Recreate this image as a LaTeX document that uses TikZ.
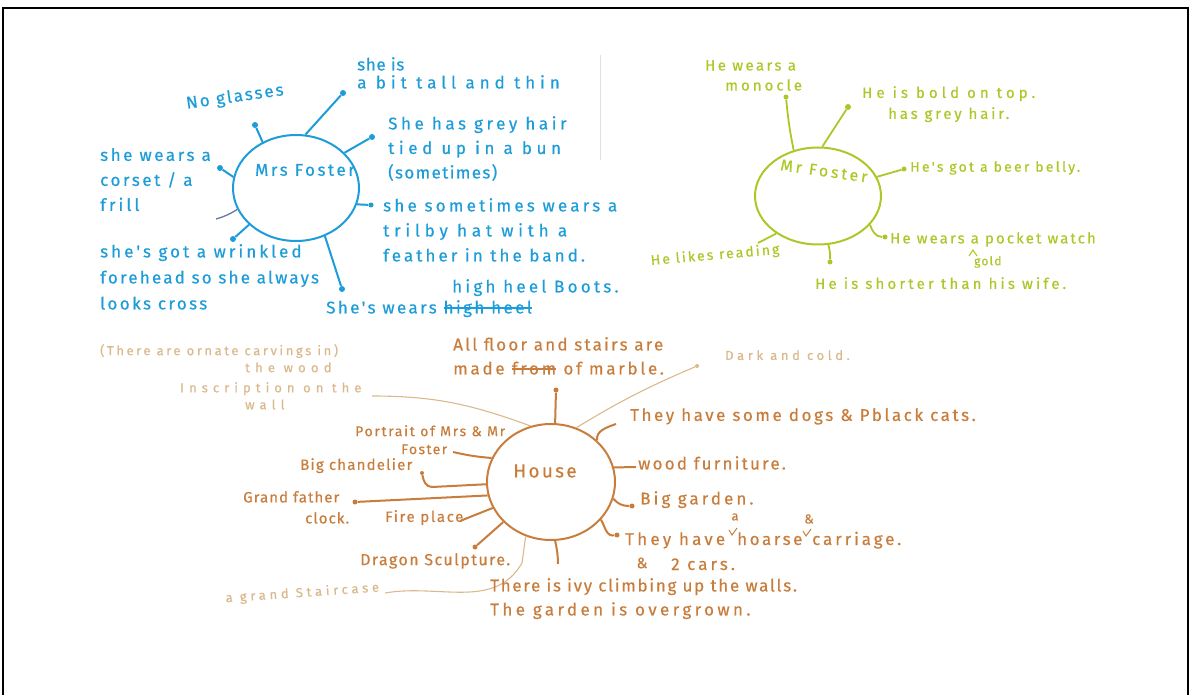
\documentclass[tikz,border=0pt]{standalone}
\usepackage{fontspec}
\setmainfont{Fira Sans}
\newfontfamily\hand[FakeBold=0.5]{Fira Sans}
\usetikzlibrary{shapes.geometric}
\newcommand{\ls}[2]{{\addfontfeature{LetterSpace=#1}#2}}
\newsavebox{\mystrikebox}
\newcommand{\mystrike}[1]{\sbox{\mystrikebox}{#1}\rlap{\rule[0.28em]{\wd\mystrikebox}{1.4pt}}\usebox{\mystrikebox}}
\definecolor{mblue}{RGB}{28,156,216}
\definecolor{mgreen}{RGB}{170,200,40}
\definecolor{mbrown}{RGB}{200,125,60}
\definecolor{mtan}{RGB}{218,185,140}
\definecolor{mslate}{RGB}{105,120,165}
\begin{document}
\begin{tikzpicture}[x=1pt,y=-1pt,
  hub/.style={ellipse, draw, line width=2pt, inner sep=0pt},
  lbl/.style={anchor=north west, align=left, inner sep=0pt},
  dot/.style={circle, fill, inner sep=0pt, minimum size=6pt},
  bsp/.style={mblue, line width=2pt},
  gsp/.style={mgreen, line width=1.8pt},
  rsp/.style={mbrown, line width=2pt},
  tsp/.style={mtan, line width=1.1pt},
  bluet/.style={lbl, text=mblue, font=\fontsize{17}{25}\selectfont\hand},
  greent/.style={lbl, text=mgreen, font=\fontsize{15}{21}\selectfont\hand},
  brownt/.style={lbl, text=mbrown, font=\fontsize{17}{24}\selectfont\hand},
  tant/.style={lbl, text=mtan, font=\fontsize{13}{17}\selectfont\hand},
  frame/.style={black, line width=2pt}]
\useasboundingbox (0,0) rectangle (1192,695);
\draw[frame] (3,697) -- (3,8) -- (1188,8) -- (1188,697);
\draw[black!12, line width=0.8pt] (600,55) -- (600,160);

% ---------------- Mrs Foster ----------------
\node[hub, mblue, minimum width=126pt, minimum height=106pt] (mrs) at (296,188) {};
\node[text=mblue, font=\fontsize{17}{18}\selectfont\hand, inner sep=0pt] (mrsl) at (305,170) {\ls{15}{Mrs Foster}};

\node[dot, mblue] (md1) at (255,125) {};
\node[dot, mblue] (md2) at (343,93) {};
\node[dot, mblue] (md3) at (372,137) {};
\node[dot, mblue, minimum size=5pt] (md4) at (371,205) {};
\node[dot, mblue] (md5) at (342,289) {};
\node[dot, mblue] (md6) at (233,239) {};
\node[dot, mblue] (md7) at (220,168) {};
\coordinate (md8) at (216,219);

\draw[bsp] (mrs.126) -- (md1);
\draw[bsp] (mrs.80) -- (md2);
\draw[bsp] (mrs.36) -- (md3);
\draw[bsp] (mrs.-15) -- (md4);
\draw[bsp] (mrs.-59) -- (md5);
\draw[bsp] (mrs.-142) -- (md6);
\draw[bsp] (mrs.170) -- (md7);
\draw[mslate, line width=1.3pt] (mrs.-160) to[bend left=8] (md8);

\node[bluet, rotate=8] (mt1) at (185,96) {\ls{12}{No glasses}};
\node[bluet, font=\fontsize{17}{18}\selectfont\hand] (mt2) at (357,57) {\ls{4}{she is}\\\ls{29}{a bit tall and thin}};
\node[bluet, font=\fontsize{17}{24.5}\selectfont\hand] (mt3) at (388,116) {\ls{21}{She has grey hair}\\\ls{27}{tied up in a bun}\\\ls{8}{(sometimes)}};
\node[bluet] (mt4) at (383,198) {\ls{19}{she sometimes wears a}\\\ls{28}{trilby hat with a}\\\ls{18}{feather in the band.}};
\node[bluet] (mt5) at (326,300) {\ls{14}{She's wears \mystrike{high heel}}};
\node[bluet] (mt5b) at (452,279) {\ls{19}{high heel Boots.}};
\node[bluet, font=\fontsize{17}{26}\selectfont\hand] (mt6) at (100,244) {\ls{18}{she's got a wrinkled}\\\ls{13}{forehead so she always}\\\ls{14}{looks cross}};
\node[bluet] (mt7) at (100,148) {\ls{15}{she wears a}\\\ls{15}{corset / a}\\\ls{18}{frill}};

% ---------------- Mr Foster ----------------
\node[hub, mgreen, minimum width=126pt, minimum height=97pt] (mr) at (818,196) {};
\node[text=mgreen, font=\fontsize{16}{18}\selectfont\hand, inner sep=0pt, rotate=-8] (mrl) at (824,171) {\ls{18}{Mr Foster}};

\node[dot, mgreen, minimum size=5pt] (gd1) at (786,97) {};
\node[dot, mgreen] (gd2) at (848,107) {};
\node[dot, mgreen, minimum size=5pt] (gd3) at (904,169) {};
\node[dot, mgreen, minimum size=5pt] (gd4) at (885,237) {};
\coordinate (gd5) at (758,243);
\node[dot, mgreen, minimum size=5pt] (gd6) at (830,262) {};

\draw[gsp] (mr.118) to[bend left=3] (gd1);
\draw[gsp] (mr.85) -- (gd2);
\draw[gsp] (mr.18) -- (gd3);
\draw[gsp] (mr.-29) to[out=-70, in=180] (gd4);
\draw[gsp] (mr.-138) -- (gd5);
\draw[gsp] (mr.-78) to[bend left=8] (gd6);

\node[greent, font=\fontsize{15}{20}\selectfont\hand] (gt1) at (705,60) {\ls{16}{He wears a}\\\hspace*{20pt}\ls{20}{monocle}};
\node[greent] (gt2) at (862,86) {\ls{27}{He is bold on top.}\\\hspace*{26pt}\ls{19}{has grey hair.}};
\node[greent, font=\fontsize{14}{18}\selectfont\hand] (gt3) at (910,161) {\ls{16}{He's got a beer belly.}};
\node[greent] (gt4) at (890,232) {\ls{14}{He wears a pocket watch}};
\node[greent, font=\fontsize{12}{14}\selectfont\hand] (gt4b) at (974,256) {\ls{10}{gold}};
\draw[mgreen, line width=1pt] (969,256) -- (973,250) -- (977,256);
\node[greent, font=\fontsize{14}{18}\selectfont\hand, rotate=5] (gt5) at (650,254) {\ls{15}{He likes reading}};
\node[greent] (gt6) at (815,277) {\ls{21}{He is shorter than his wife.}};

% ---------------- House ----------------
\node[hub, mbrown, minimum width=128pt, minimum height=116pt] (house) at (551,482) {};
\node[text=mbrown, font=\fontsize{19}{20}\selectfont\hand, inner sep=0pt] (housel) at (545,471) {\ls{12}{House}};

\node[dot, mbrown, minimum size=5pt] (hd1) at (556,390) {};
\coordinate (hd2) at (616,424);
\node[dot, mtan, minimum size=4pt] (hd3) at (697,366) {};
\coordinate (hd4) at (636,467);
\node[dot, mbrown, minimum size=5pt] (hd5) at (632,506) {};
\node[dot, mbrown, minimum size=5pt] (hd6) at (617,535) {};
\coordinate (hd7) at (558,564);
\coordinate (hd8a) at (522,563);
\coordinate (hd8) at (385,593);
\node[dot, mbrown, minimum size=5pt] (hd9) at (475,547) {};
\coordinate (hd10) at (460,521);
\node[dot, mbrown, minimum size=5pt] (hd11) at (355,502) {};
\coordinate (hd12a) at (432,487);
\node[dot, mbrown, minimum size=4pt] (hd12) at (422,473) {};
\coordinate (hd13) at (453,452);
\coordinate (hd15) at (372,396);

\draw[rsp] (house.86) -- (hd1);
\draw[rsp] (house.42) to[out=100, in=200] (hd2);
\draw[tsp] (house.65) to[bend left=4] (hd3);
\draw[rsp] (house.13) -- (hd4);
\draw[rsp] (house.-15) to[out=-50, in=180] (hd5);
\draw[rsp] (house.-37) to[out=-60, in=190] (hd6);
\draw[rsp] (house.-86) to[bend left=6] (hd7);
\draw[tsp] (house.-115) -- (hd8a) to[out=-120, in=10] (hd8);
\draw[rsp] (house.-140) -- (hd9);
\draw[rsp] (house.-156) -- (hd10);
\draw[rsp] (house.-168) -- (hd11);
\draw[rsp] (house.-178) -- (hd12a) to[out=180, in=-80] (hd12);
\draw[rsp] (house.158) to[bend left=4] (hd13);
\draw[tsp] (house.110) to[out=160, in=0] (hd15);

\node[brownt] (ht1) at (453,337) {\ls{13}{All floor and stairs are}\\\ls{16}{made \mystrike{from} of marble.}};
\node[brownt] (ht2) at (630,408) {\ls{15}{They have some dogs \& Pblack cats.}};
\node[brownt] (ht3) at (638,456) {\ls{13}{wood furniture.}};
\node[brownt] (ht4) at (640,491) {\ls{18}{Big garden.}};
\node[brownt, anchor=base west] (ht5) at (625,545) {\ls{19}{They have}};
\node[brownt, anchor=base west] (ht5h) at (737,545) {\ls{15}{hoarse}};
\node[brownt, anchor=base west] (ht5c) at (812,545) {\ls{17}{carriage.}};
\node[text=mbrown, font=\fontsize{13}{14}\selectfont\hand, inner sep=0pt] (ht5a) at (735,517) {a};
\node[text=mbrown, font=\fontsize{13}{14}\selectfont\hand, inner sep=0pt] (ht5b) at (809,519) {\&};
\draw[mbrown, line width=1pt] (729,530) -- (732,535) -- (737,528);
\draw[mbrown, line width=1pt] (803,531) -- (806,536) -- (811,529);
\node[text=mbrown, font=\fontsize{15}{20}\selectfont\hand, inner sep=0pt] (ht5d) at (642,563) {\&};
\node[brownt, anchor=base west] (ht5e) at (671,570) {\ls{18}{2 cars.}};
\node[brownt] (ht6) at (490,578) {\ls{10}{There is ivy climbing up the walls.}\\\ls{20}{The garden is overgrown.}};
\node[brownt, font=\fontsize{16}{24}\selectfont\hand] (ht7) at (360,553) {\ls{9}{Dragon Sculpture.}};
\node[brownt, font=\fontsize{15}{24}\selectfont\hand] (ht8) at (385,510) {\ls{11}{Fire place}};
\node[brownt, font=\fontsize{15}{21}\selectfont\hand] (ht9) at (243,491) {\ls{7}{Grand father}\\\hspace*{62pt}\ls{7}{clock.}};
\node[brownt, font=\fontsize{15}{24}\selectfont\hand] (ht10) at (300,458) {\ls{8}{Big chandelier}};
\node[brownt, align=center, font=\fontsize{14}{18}\selectfont\hand] (ht11) at (355,425) {\ls{12}{Portrait of Mrs \& Mr}\\\hspace*{-12pt}\ls{10}{Foster}};

\node[tant] (tt1) at (100,344) {\ls{20}{(There are ornate carvings in)}\\\hspace*{145pt}\ls{40}{the wood}};
\node[tant] (tt2) at (180,382) {\ls{39}{Inscription on the}\\\hspace*{65pt}\ls{40}{wall}};
\node[tant] (tt3) at (725,350) {\ls{28}{Dark and cold.}};
\node[tant, rotate=4] (tt4) at (225,592) {\ls{29}{a grand Staircase}};
\end{tikzpicture}
\end{document}
